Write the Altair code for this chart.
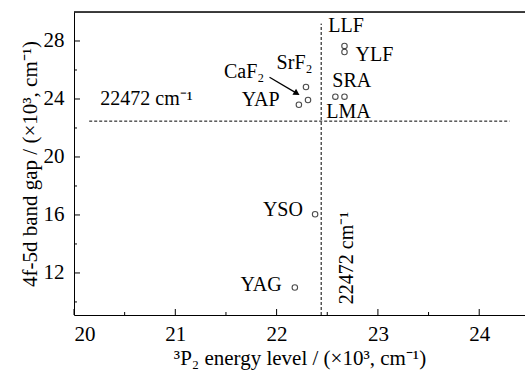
import altair as alt
import pandas as pd

FONT = "Liberation Serif, Times New Roman, serif"
W, H = 451, 303
XDOM = [20, 24.452]
YDOM = [9.1, 30]

# data points (x: 3P2 energy level, y: 4f-5d band gap), ×10^3 cm^-1
pt_name = ["LLF", "YLF", "SRA", "LMA", "SrF2", "CaF2", "YAP", "YSO", "YAG"]
pt_x = [22.67, 22.67, 22.58, 22.67, 22.29, 22.31, 22.22, 22.38, 22.18]
pt_y = [27.66, 27.24, 24.16, 24.16, 24.83, 23.93, 23.60, 16.05, 11.00]

# labels
lab_left_text = ["LLF", "YLF", "SRA", "LMA", "SrF₂", "CaF₂", "22472 cm⁻¹"]
lab_left_x = [22.51, 22.78, 22.55, 22.49, 22.00, 21.48, 20.26]
lab_left_y = [29.03, 27.03, 25.24, 23.12, 26.48, 25.88, 24.03]
lab_right_text = ["YAP", "YSO", "YAG"]
lab_right_x = [22.03, 22.26, 22.05]
lab_right_y = [23.93, 16.34, 11.17]

ref_level = 22.472
vline_x = 22.44
vline_y = [YDOM[0], 29.2]
hline_x = [20.15, 24.3]

arrow_x = [21.93, 22.20]
arrow_y = [25.50, 24.39]

x_major = [20, 21, 22, 23, 24]
x_minor = [20.5, 21.5, 22.5, 23.5]
y_major = [12, 16, 20, 24, 28]
y_minor = [10, 14, 18, 22, 26]

xs = alt.Scale(domain=XDOM, nice=False, zero=False)
ys = alt.Scale(domain=YDOM, nice=False, zero=False)

pts = pd.DataFrame({"name": pt_name, "x": pt_x, "y": pt_y})

base_axes = alt.Chart(pd.DataFrame({"x": [20], "y": [20]})).mark_point(opacity=0).encode(
    x=alt.X("x:Q", scale=xs, axis=alt.Axis(
        values=x_major, format="d", ticks=False, tickSize=0, grid=False, domainColor="black",
        labelFont=FONT, labelFontSize=21, labelColor="black", labelPadding=8,
        title="³P₂ energy level / (×10³, cm⁻¹)", titleFont=FONT, titleFontSize=21,
        titleFontWeight="normal", titleColor="black", titlePadding=3)),
    y=alt.Y("y:Q", scale=ys, axis=alt.Axis(
        values=y_major, format="d", ticks=False, tickSize=0, grid=False, domainColor="black",
        labelFont=FONT, labelFontSize=21, labelColor="black", labelPadding=10,
        title="4f-5d band gap / (×10³, cm⁻¹)", titleFont=FONT, titleFontSize=21,
        titleFontWeight="normal", titleColor="black", titlePadding=3)),
)

# top frame line
top = alt.Chart(pd.DataFrame({"a": [0]})).mark_rule(color="black", strokeWidth=1.5).encode(
    x=alt.value(0), x2=alt.value(W), y=alt.value(0))

# inward ticks
xt_major = alt.Chart(pd.DataFrame({"x": x_major})).mark_rule(color="black").encode(
    x=alt.X("x:Q", scale=xs), y=alt.value(H), y2=alt.value(H - 6))
xt_minor = alt.Chart(pd.DataFrame({"x": x_minor})).mark_rule(color="black").encode(
    x=alt.X("x:Q", scale=xs), y=alt.value(H), y2=alt.value(H - 3))
yt_major = alt.Chart(pd.DataFrame({"y": y_major})).mark_rule(color="black").encode(
    y=alt.Y("y:Q", scale=ys), x=alt.value(0), x2=alt.value(6))
yt_minor = alt.Chart(pd.DataFrame({"y": y_minor})).mark_rule(color="black").encode(
    y=alt.Y("y:Q", scale=ys), x=alt.value(0), x2=alt.value(3))

# dashed reference lines
hline = alt.Chart(pd.DataFrame({"x": [hline_x[0]], "x2": [hline_x[1]], "y": [ref_level]})).mark_rule(
    color="black", strokeDash=[3, 2], strokeWidth=1).encode(
    x=alt.X("x:Q", scale=xs), x2="x2:Q", y=alt.Y("y:Q", scale=ys))
vline = alt.Chart(pd.DataFrame({"x": [vline_x], "y": [vline_y[0]], "y2": [vline_y[1]]})).mark_rule(
    color="black", strokeDash=[3, 2], strokeWidth=1).encode(
    x=alt.X("x:Q", scale=xs), y=alt.Y("y:Q", scale=ys), y2="y2:Q")

points = alt.Chart(pts).mark_point(shape="circle", filled=False, color="black", size=30,
                                   strokeWidth=1.1).encode(
    x=alt.X("x:Q", scale=xs), y=alt.Y("y:Q", scale=ys))

left_labels = alt.Chart(pd.DataFrame({"t": lab_left_text, "x": lab_left_x, "y": lab_left_y})).mark_text(
    align="left", baseline="middle", font=FONT, fontSize=20, color="black").encode(
    x=alt.X("x:Q", scale=xs), y=alt.Y("y:Q", scale=ys), text="t:N")
right_labels = alt.Chart(pd.DataFrame({"t": lab_right_text, "x": lab_right_x, "y": lab_right_y})).mark_text(
    align="right", baseline="middle", font=FONT, fontSize=20, color="black").encode(
    x=alt.X("x:Q", scale=xs), y=alt.Y("y:Q", scale=ys), text="t:N")
vert_label = alt.Chart(pd.DataFrame({"t": ["22472 cm⁻¹"], "x": [22.69], "y": [13.03]})).mark_text(
    align="center", baseline="middle", font=FONT, fontSize=20, color="black", angle=270).encode(
    x=alt.X("x:Q", scale=xs), y=alt.Y("y:Q", scale=ys), text="t:N")

arrow_line = alt.Chart(pd.DataFrame({"x": [arrow_x[0]], "x2": [arrow_x[1]], "y": [arrow_y[0]], "y2": [arrow_y[1]]})).mark_rule(
    color="black", strokeWidth=1.3).encode(
    x=alt.X("x:Q", scale=xs), x2="x2:Q", y=alt.Y("y:Q", scale=ys), y2="y2:Q")
arrow_head = alt.Chart(pd.DataFrame({"x": [arrow_x[1]], "y": [arrow_y[1]]})).mark_point(
    shape="triangle-right", filled=True, color="black", size=50, angle=31, opacity=1).encode(
    x=alt.X("x:Q", scale=xs), y=alt.Y("y:Q", scale=ys))

chart = alt.layer(
    base_axes, top, xt_major, xt_minor, yt_major, yt_minor, hline, vline,
    points, left_labels, right_labels, vert_label, arrow_line, arrow_head
).properties(
    width=W, height=H,
    padding={"left": 74, "top": 12, "right": 0, "bottom": 55},
    autosize=alt.AutoSizeParams(type="none"),
).configure_view(stroke=None).configure(background="white")

chart.save("out.html", embed_options={"renderer": "svg", "actions": False})
